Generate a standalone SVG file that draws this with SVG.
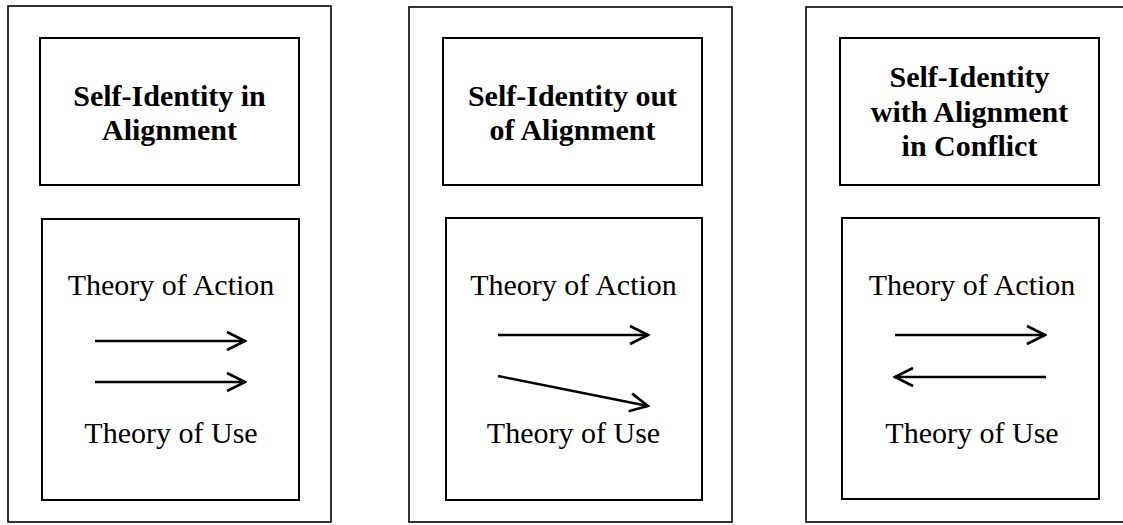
<svg xmlns="http://www.w3.org/2000/svg" width="1123" height="525" viewBox="0 0 1123 525">
  <style>
    .frame { fill: none; stroke: #000; stroke-width: 1.6; }
    .box { fill: none; stroke: #000; stroke-width: 2; }
    .title { font-family: "Liberation Serif", "Times New Roman", serif; font-size: 30px; font-weight: bold; text-anchor: middle; fill: #000; }
    .label { font-family: "Liberation Serif", "Times New Roman", serif; font-size: 30px; text-anchor: middle; fill: #000; }
    .arrow { fill: none; stroke: #000; stroke-width: 2.4; marker-end: url(#chevron); }
  </style>
  <defs>
    <marker id="chevron" viewBox="0 0 22 22" refX="20" refY="11" markerWidth="22" markerHeight="22" markerUnits="userSpaceOnUse" orient="auto">
      <path d="M2,2 L20,11 L2,20" fill="none" stroke="#000" stroke-width="2.6" stroke-linejoin="miter"/>
    </marker>
  </defs>
  <rect width="1123" height="525" fill="#fff"/>

  <!-- Panel 1 -->
  <g id="panel-aligned">
    <rect class="frame" x="8" y="6" width="323" height="516"/>
    <g id="title-aligned">
      <rect class="box" x="40" y="38" width="259" height="147"/>
      <text class="title" x="169.5" y="106">Self-Identity in</text>
      <text class="title" x="169.5" y="140">Alignment</text>
    </g>
    <g id="theories-aligned">
      <rect class="box" x="42" y="219" width="257" height="281"/>
      <text class="label" x="171" y="295">Theory of Action</text>
      <text class="label" x="171" y="443">Theory of Use</text>
    </g>
  </g>

  <!-- Panel 2 -->
  <g id="panel-misaligned">
    <rect class="frame" x="409" y="7" width="323" height="515"/>
    <g id="title-misaligned">
      <rect class="box" x="443" y="38" width="259" height="147"/>
      <text class="title" x="572.5" y="106">Self-Identity out</text>
      <text class="title" x="572.5" y="140">of Alignment</text>
    </g>
    <g id="theories-misaligned">
      <rect class="box" x="446" y="218" width="256" height="282"/>
      <text class="label" x="573.5" y="295">Theory of Action</text>
      <text class="label" x="573.5" y="443">Theory of Use</text>
    </g>
  </g>

  <!-- Panel 3 -->
  <g id="panel-conflict">
    <rect class="frame" x="806" y="7" width="330" height="515"/>
    <g id="title-conflict">
      <rect class="box" x="840" y="38" width="259" height="147"/>
      <text class="title" x="969.5" y="87">Self-Identity</text>
      <text class="title" x="969.5" y="122">with Alignment</text>
      <text class="title" x="969.5" y="156">in Conflict</text>
    </g>
    <g id="theories-conflict">
      <rect class="box" x="842" y="218" width="257" height="281"/>
      <text class="label" x="972" y="295">Theory of Action</text>
      <text class="label" x="972" y="443">Theory of Use</text>
    </g>
  </g>

  <!-- Connectors -->
  <g id="connectors">
    <line class="arrow" x1="95" y1="341" x2="245" y2="341"/>
    <line class="arrow" x1="95" y1="382" x2="245" y2="382"/>
    <line class="arrow" x1="498" y1="335" x2="648" y2="335"/>
    <line class="arrow" x1="498" y1="376" x2="648" y2="406"/>
    <line class="arrow" x1="895" y1="335" x2="1045" y2="335"/>
    <line class="arrow" x1="1046" y1="377" x2="895" y2="377"/>
  </g>
</svg>
